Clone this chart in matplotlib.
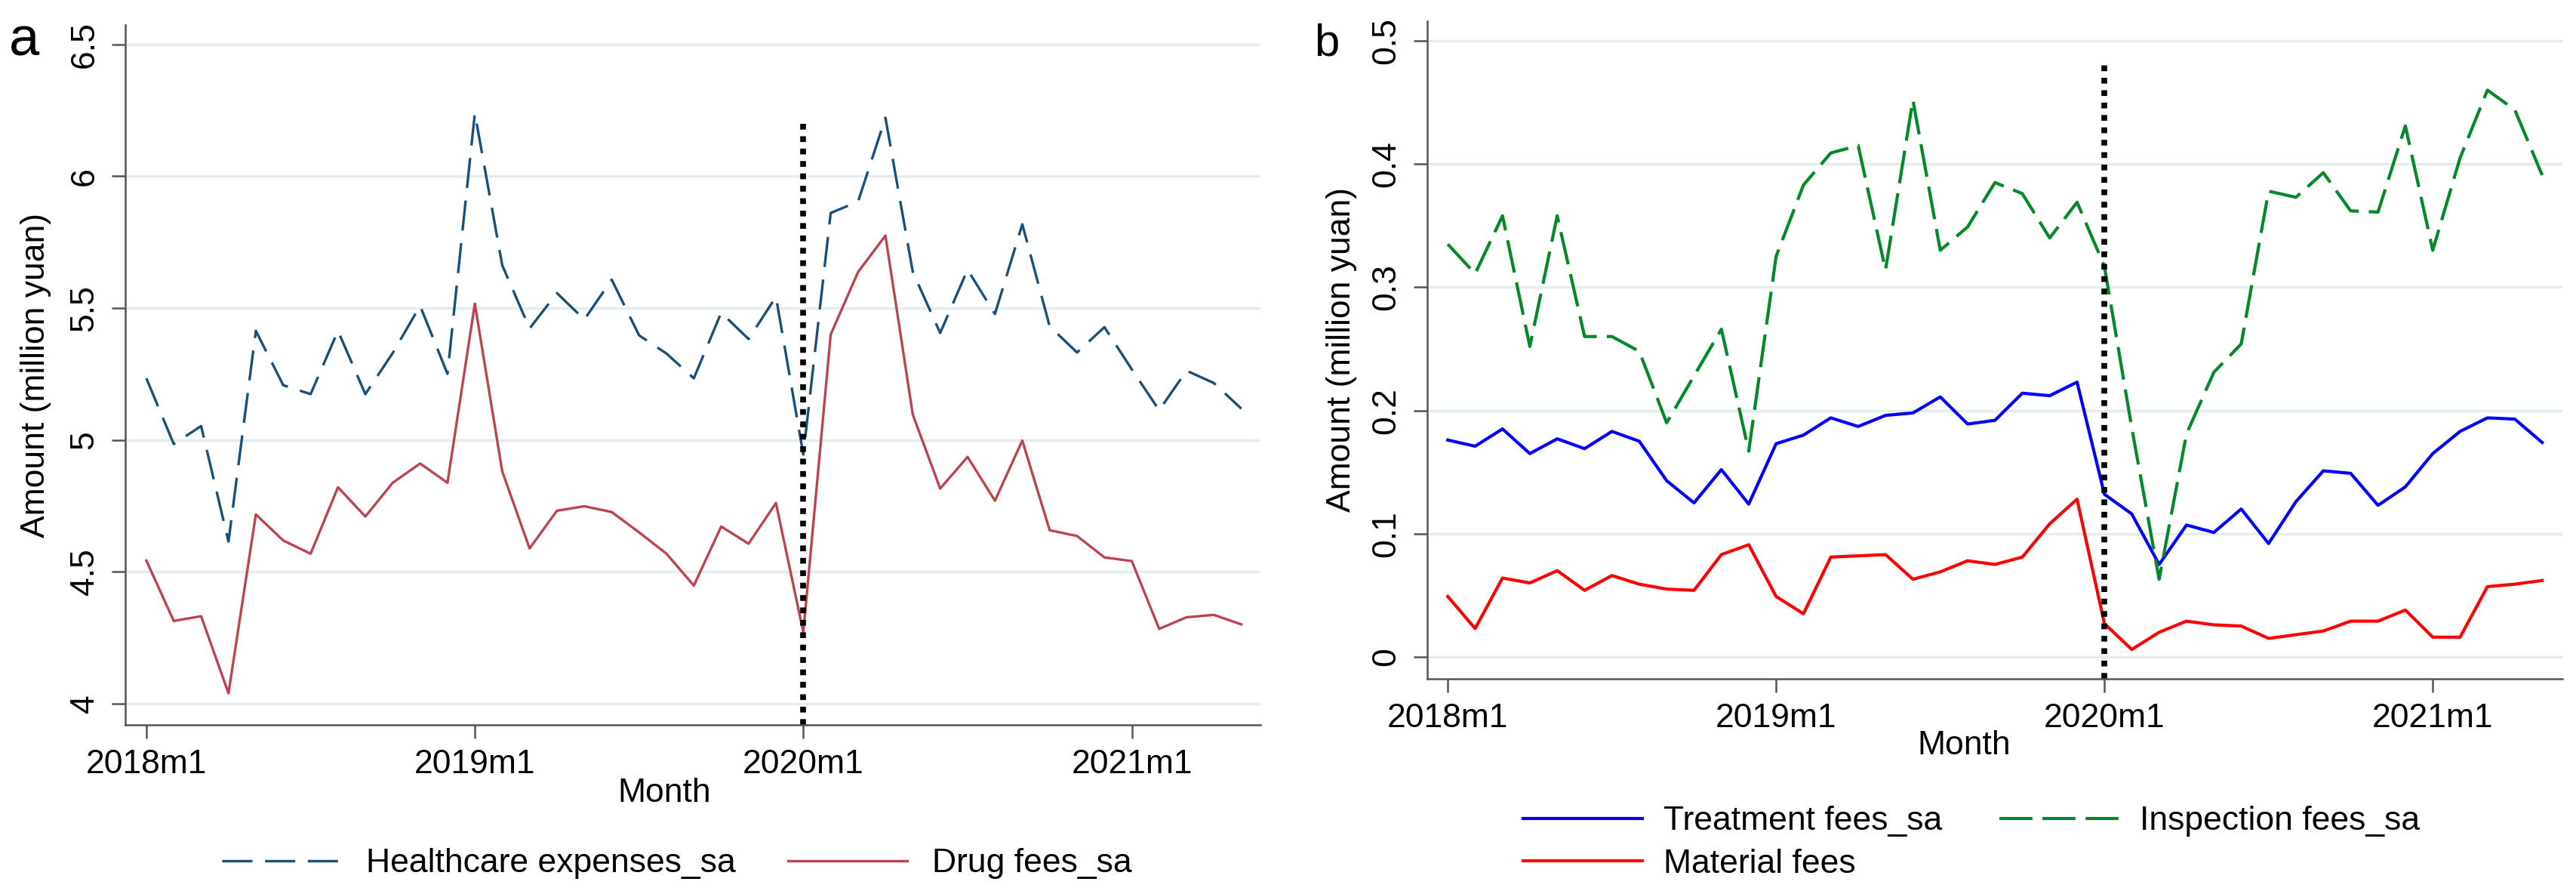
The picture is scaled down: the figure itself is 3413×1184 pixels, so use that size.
import numpy as np
import matplotlib
matplotlib.use('Agg')
import matplotlib.pyplot as plt

plt.rcParams['font.family'] = ['Liberation Sans', 'DejaVu Sans']

# monthly series, 2018m1 .. 2021m5
month_idx = np.arange(41)
tick_pos = [0, 12, 24, 36]
tick_labels = ['2018m1', '2019m1', '2020m1', '2021m1']
policy_month = 24  # 2020m1

healthcare_sa = [5.234, 4.985, 5.053, 4.615, 5.414, 5.208, 5.174, 5.414, 5.174, 5.33,
                 5.509, 5.251, 6.239, 5.663, 5.423, 5.557, 5.457, 5.608, 5.397, 5.328,
                 5.234, 5.483, 5.383, 5.543, 4.945, 5.861, 5.904, 6.222, 5.637, 5.406,
                 5.646, 5.478, 5.818, 5.431, 5.332, 5.428, 5.268, 5.113, 5.263, 5.216,
                 5.119]
drug_sa = [4.543, 4.314, 4.332, 4.040, 4.718, 4.619, 4.569, 4.821, 4.710, 4.838,
           4.911, 4.838, 5.517, 4.881, 4.589, 4.732, 4.749, 4.727, 4.650, 4.569,
           4.448, 4.672, 4.607, 4.761, 4.271, 5.400, 5.637, 5.775, 5.096, 4.816,
           4.936, 4.770, 4.998, 4.658, 4.636, 4.555, 4.541, 4.284, 4.328, 4.337,
           4.301]

treatment_sa = [0.176, 0.171, 0.185, 0.165, 0.177, 0.169, 0.183, 0.175, 0.143, 0.125,
                0.152, 0.124, 0.173, 0.180, 0.194, 0.187, 0.196, 0.198, 0.211, 0.189,
                0.192, 0.214, 0.212, 0.223, 0.132, 0.116, 0.075, 0.107, 0.101, 0.120,
                0.092, 0.126, 0.151, 0.149, 0.123, 0.138, 0.165, 0.183, 0.194, 0.193,
                0.174]
inspection_sa = [0.335, 0.311, 0.358, 0.252, 0.358, 0.260, 0.260, 0.248, 0.190, 0.228,
                 0.266, 0.167, 0.325, 0.383, 0.409, 0.415, 0.314, 0.452, 0.330, 0.349,
                 0.385, 0.376, 0.340, 0.369, 0.317, 0.186, 0.063, 0.181, 0.231, 0.254,
                 0.378, 0.373, 0.393, 0.362, 0.361, 0.431, 0.330, 0.405, 0.460, 0.444,
                 0.391]
material = [0.049, 0.023, 0.064, 0.060, 0.070, 0.054, 0.066, 0.059, 0.055, 0.054,
            0.083, 0.091, 0.049, 0.035, 0.081, 0.082, 0.083, 0.063, 0.069, 0.078,
            0.075, 0.081, 0.108, 0.128, 0.027, 0.006, 0.020, 0.029, 0.026, 0.025,
            0.015, 0.018, 0.021, 0.029, 0.029, 0.038, 0.016, 0.016, 0.057, 0.059,
            0.062]

FS = 32
W, H = 3413, 1184
fig = plt.figure(figsize=(W / 100, H / 100), dpi=100)

def px_axes(l, t, r, b):
    return fig.add_axes([l / W, 1 - b / H, (r - l) / W, (b - t) / H])

def stata_style(ax, yticks, ylabels):
    for s in ['top', 'right']:
        ax.spines[s].set_visible(False)
    for s in ['left', 'bottom']:
        ax.spines[s].set_color('#555555')
        ax.spines[s].set_linewidth(1.8)
    ax.set_yticks(yticks)
    ax.set_yticklabels(ylabels, rotation=90, va='center')
    ax.set_xticks(tick_pos)
    ax.set_xticklabels(tick_labels)
    ax.tick_params(axis='both', labelsize=FS, length=13, width=1.8, color='#555555')
    ax.tick_params(axis='y', pad=11)
    ax.tick_params(axis='x', pad=10)
    ax.grid(axis='y', color='#e3edef', lw=2.5)
    ax.set_axisbelow(True)
    ax.set_ylabel('Amount (million yuan)', fontsize=FS)
    ax.set_xlabel('Month', fontsize=FS)

# ---- panel a
ax1 = px_axes(166, 33, 1670, 960)
ax1.plot(month_idx, healthcare_sa, color='#1a4f7a', lw=2.4, dashes=(12, 5),
         label='Healthcare expenses_sa')
ax1.plot(month_idx, drug_sa, color='#bb4450', lw=2.4, label='Drug fees_sa')
ax1.set_xlim(-0.77, 40.7)
ax1.set_ylim(3.92, 6.574)
ax1.plot([policy_month, policy_month], [3.92, 6.222], color='black', lw=5.5,
         dashes=(1, 1.15), solid_capstyle='butt')
stata_style(ax1, [4, 4.5, 5, 5.5, 6, 6.5], ['4', '4.5', '5', '5.5', '6', '6.5'])
ax1.yaxis.set_label_coords(-0.065, 0.5)
ax1.xaxis.set_label_coords(0.475, -0.076)
h1, l1 = ax1.get_legend_handles_labels()
fig.legend(h1, l1, loc='center left', bbox_to_anchor=(294 / W, 1 - 1144 / H), ncol=2,
           frameon=False, fontsize=FS, handlelength=3.56, handletextpad=0.74,
           columnspacing=1.55, borderpad=0, borderaxespad=0)

# ---- panel b
ax2 = px_axes(1891, 28, 3395, 899)
ax2.plot(month_idx, treatment_sa, color='#0000ff', lw=3, label='Treatment fees_sa')
ax2.plot(month_idx, inspection_sa, color='#00882a', lw=3, dashes=(10.5, 3.2),
         label='Inspection fees_sa')
ax2.plot(month_idx, material, color='#ff0000', lw=3, label='Material fees')
ax2.set_xlim(-0.75, 40.74)
ax2.set_ylim(-0.0178, 0.516)
ax2.plot([policy_month, policy_month], [-0.0178, 0.482], color='black', lw=5.5,
         dashes=(1, 1.15), solid_capstyle='butt')
stata_style(ax2, [0, 0.1, 0.2, 0.3, 0.4, 0.5], ['0', '0.1', '0.2', '0.3', '0.4', '0.5'])
ax2.yaxis.set_label_coords(-0.062, 0.5)
ax2.xaxis.set_label_coords(0.473, -0.078)
h2, l2 = ax2.get_legend_handles_labels()
order = [0, 2, 1]  # row 1: treatment, inspection; row 2: material
fig.legend([h2[i] for i in order], [l2[i] for i in order], loc='center left',
           bbox_to_anchor=(2018 / W, 1 - 1116 / H), ncol=2,
           frameon=False, fontsize=FS, handlelength=3.56, handletextpad=0.63,
           columnspacing=1.7, borderpad=0, borderaxespad=0, labelspacing=0.35)

fig.text(12 / W, 1 - 73 / H, 'a', fontsize=52, ha='left', va='baseline')
fig.text(1741 / W, 1 - 73 / H, 'b', fontsize=43, ha='left', va='baseline')

fig.savefig('out.png', dpi=100)
